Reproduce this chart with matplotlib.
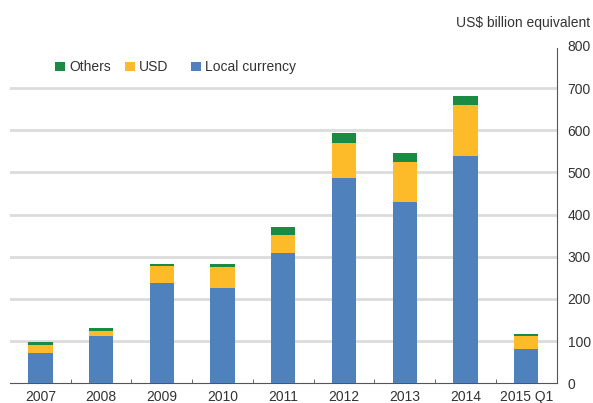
import matplotlib.pyplot as plt
import numpy as np

plt.rcParams['font.family'] = ['Liberation Sans', 'DejaVu Sans']

years = ['2007', '2008', '2009', '2010', '2011', '2012', '2013', '2014', '2015 Q1']
local_currency = [72, 112, 239, 226, 309, 487, 431, 540, 82]
usd = [18, 11, 39, 49, 42, 84, 95, 119, 30]
others = [8, 7, 5, 9, 19, 22, 20, 22, 5]

blue = '#4f81bd'
yellow = '#fdbb2a'
green = '#1b8a42'
text_color = '#333333'

fig = plt.figure(figsize=(5.93, 4.03), dpi=100)
ax = fig.add_axes([0.0169, 0.0489, 0.9216, 0.837])

x = np.arange(len(years))
w = 0.4
local_arr = np.array(local_currency)
usd_arr = np.array(usd)
b1 = ax.bar(x, local_arr, w, color=blue, label='Local currency', zorder=3)
b2 = ax.bar(x, usd_arr, w, bottom=local_arr, color=yellow, label='USD', zorder=3)
b3 = ax.bar(x, others, w, bottom=local_arr + usd_arr, color=green, label='Others', zorder=3)

ax.set_xlim(-0.5, len(years) - 0.5)
ax.set_ylim(0, 800)

ax.yaxis.tick_right()
ax.set_yticks(range(0, 801, 100))
for y in range(100, 800, 100):
    ax.axhline(y, color='#dcdcdc', lw=2, zorder=1)
ax.tick_params(axis='y', length=0, pad=8, labelsize=10, labelcolor=text_color)

ax.set_xticks(x)
ax.set_xticklabels(years)
ax.set_xticks(x[:-1] + 0.5, minor=True)
ax.tick_params(axis='x', which='major', length=0, pad=5, labelsize=10, labelcolor=text_color)
ax.tick_params(axis='x', which='minor', direction='in', length=3, color='#555555')

for s in ['top', 'left']:
    ax.spines[s].set_visible(False)
ax.spines['right'].set_color('#555555')
ax.spines['bottom'].set_color('#555555')
ax.spines['right'].set_bounds(0, 795)

leg_kw = dict(frameon=False, handlelength=0.7, handleheight=0.7,
              handletextpad=0.3, columnspacing=1.0, fontsize=10, labelcolor=text_color)
leg1 = ax.legend(handles=[b3, b2], loc='center left', bbox_to_anchor=(0.06, 0.937),
                 ncol=2, **leg_kw)
ax.add_artist(leg1)
ax.legend(handles=[b1], loc='center left', bbox_to_anchor=(0.309, 0.937), **leg_kw)

fig.text(0.995, 0.942, 'US$ billion equivalent', ha='right', va='center',
         fontsize=10, color=text_color)

fig.savefig('out.png', dpi=100)
